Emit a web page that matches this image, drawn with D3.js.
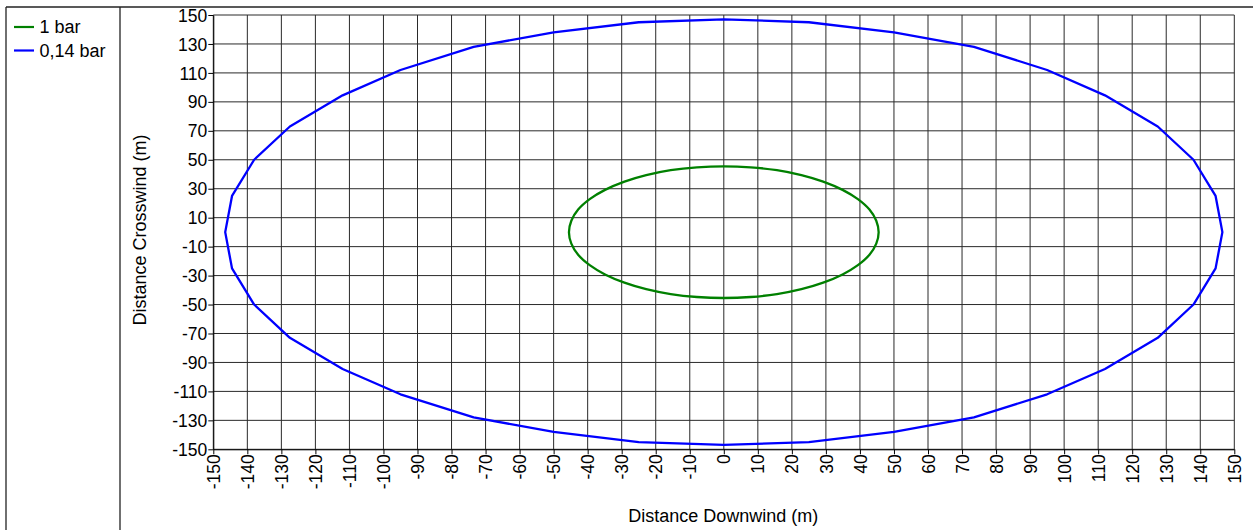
<!DOCTYPE html>
<html>
<head>
<meta charset="utf-8">
<script src="https://cdnjs.cloudflare.com/ajax/libs/d3/7.8.5/d3.min.js"></script>
<style>
html,body{margin:0;padding:0;background:#fff;}
svg{display:block;font-family:"Liberation Sans",Arial,sans-serif;}
</style>
</head>
<body>
<svg id="chart" width="1253" height="530"></svg>
<script>
// ---- data ----
const seriesNames = ["1 bar", "0,14 bar"];
const seriesColors = ["#008000", "#0000ff"];

const blueX = [146.5,144.5,138,127.5,112,95,73.5,50,25,0,-25,-50,-73.5,-95,-112,-127.5,-138,-144.5,-146.5,-144.5,-138,-127.5,-112,-95,-73.5,-50,-25,0,25,50,73.5,95,112,127.5,138,144.5,146.5];
const blueY = [0,25,50,73,94.5,112,128,138,145,147,145,138,128,112,94.5,73,50,25,0,-25,-50,-73,-94.5,-112,-128,-138,-145,-147,-145,-138,-128,-112,-94.5,-73,-50,-25,0];

const greenX = [45.5,44.8,42.8,39.4,34.9,29.2,22.8,15.6,7.9,0,-7.9,-15.6,-22.8,-29.2,-34.9,-39.4,-42.8,-44.8,-45.5,-44.8,-42.8,-39.4,-34.9,-29.2,-22.8,-15.6,-7.9,0,7.9,15.6,22.8,29.2,34.9,39.4,42.8,44.8,45.5];
const greenY = [0,7.9,15.6,22.8,29.2,34.9,39.4,42.8,44.8,45.5,44.8,42.8,39.4,34.9,29.2,22.8,15.6,7.9,0,-7.9,-15.6,-22.8,-29.2,-34.9,-39.4,-42.8,-44.8,-45.5,-44.8,-42.8,-39.4,-34.9,-29.2,-22.8,-15.6,-7.9,0];

const xTicks = [-150,-140,-130,-120,-110,-100,-90,-80,-70,-60,-50,-40,-30,-20,-10,0,10,20,30,40,50,60,70,80,90,100,110,120,130,140,150];
const yTicks = [150,130,110,90,70,50,30,10,-10,-30,-50,-70,-90,-110,-130,-150];

const xTitle = "Distance Downwind (m)";
const yTitle = "Distance Crosswind (m)";

// ---- drawing ----
const svg = d3.select("#chart");
const W = 1253, H = 530;
const plot = {left: 213.3, right: 1234.3, top: 15, bottom: 449.3};

const x = d3.scaleLinear().domain([-150,150]).range([plot.left, plot.right]);
const y = d3.scaleLinear().domain([-150,150]).range([plot.bottom, plot.top]);
const fmt = d => String(d);

// outer frame
const frame = svg.append("g").attr("stroke","#222").attr("stroke-width",1.3).attr("fill","none");
frame.append("line").attr("x1",6).attr("x2",W).attr("y1",7).attr("y2",7);
frame.append("line").attr("x1",6).attr("x2",6).attr("y1",7).attr("y2",H);
frame.append("line").attr("x1",120).attr("x2",120).attr("y1",7).attr("y2",H);

// grid
const grid = svg.append("g").attr("stroke","#2a2a2a").attr("stroke-width",1);
grid.selectAll(".vx").data(xTicks).join("line")
  .attr("x1",d=>x(d)).attr("x2",d=>x(d)).attr("y1",plot.top).attr("y2",plot.bottom);
grid.selectAll(".hy").data(yTicks).join("line")
  .attr("y1",d=>y(d)).attr("y2",d=>y(d)).attr("x1",plot.left).attr("x2",plot.right);

// axes
const xAxis = svg.append("g").attr("transform",`translate(0,${plot.bottom})`)
  .call(d3.axisBottom(x).tickValues(xTicks).tickSize(5).tickSizeOuter(0).tickFormat(fmt));
xAxis.select(".domain").attr("stroke","#000");
xAxis.selectAll(".tick line").attr("stroke","#000");
xAxis.selectAll(".tick text")
  .attr("font-size","17.5px").attr("fill","#000")
  .attr("font-family","'Liberation Sans',Arial,sans-serif")
  .attr("transform","rotate(-90)")
  .attr("text-anchor","end")
  .attr("x",-5).attr("y",0).attr("dy","0.35em");

const yAxis = svg.append("g").attr("transform",`translate(${plot.left},0)`)
  .call(d3.axisLeft(y).tickValues(yTicks).tickSize(5).tickSizeOuter(0).tickFormat(fmt));
yAxis.select(".domain").attr("stroke","#000");
yAxis.selectAll(".tick line").attr("stroke","#000");
yAxis.selectAll(".tick text")
  .attr("font-size","17.5px").attr("fill","#000")
  .attr("font-family","'Liberation Sans',Arial,sans-serif")
  .attr("x",-6).attr("dy","0.35em");

// series
const series = [d3.zip(greenX, greenY), d3.zip(blueX, blueY)];
const curves = [d3.curveCatmullRomClosed, d3.curveLinearClosed];
svg.append("g").selectAll("path").data(series).join("path")
  .attr("d", (d,i) => d3.line().x(p=>x(p[0])).y(p=>y(p[1])).curve(curves[i])(d.slice(0,-1)))
  .attr("fill","none")
  .attr("stroke",(d,i)=>seriesColors[i])
  .attr("stroke-width",2.3)
  .attr("stroke-linejoin","round");

// titles
svg.append("text").attr("x",(plot.left+plot.right)/2 - 0.5).attr("y",522)
  .attr("text-anchor","middle").attr("font-size","18px").attr("fill","#000").text(xTitle);
svg.append("text").attr("transform",`translate(146,${230}) rotate(-90)`)
  .attr("text-anchor","middle").attr("font-size","18px").attr("fill","#000").text(yTitle);

// legend
const leg = svg.append("g");
seriesNames.forEach((name,i)=>{
  const ly = 27 + i*23.5;
  leg.append("line").attr("x1",14).attr("x2",34).attr("y1",ly).attr("y2",ly)
    .attr("stroke",seriesColors[i]).attr("stroke-width",2.2);
  leg.append("text").attr("x",39.5).attr("y",ly+6.3).attr("font-size","18px").attr("fill","#000").text(name);
});
</script>
</body>
</html>
